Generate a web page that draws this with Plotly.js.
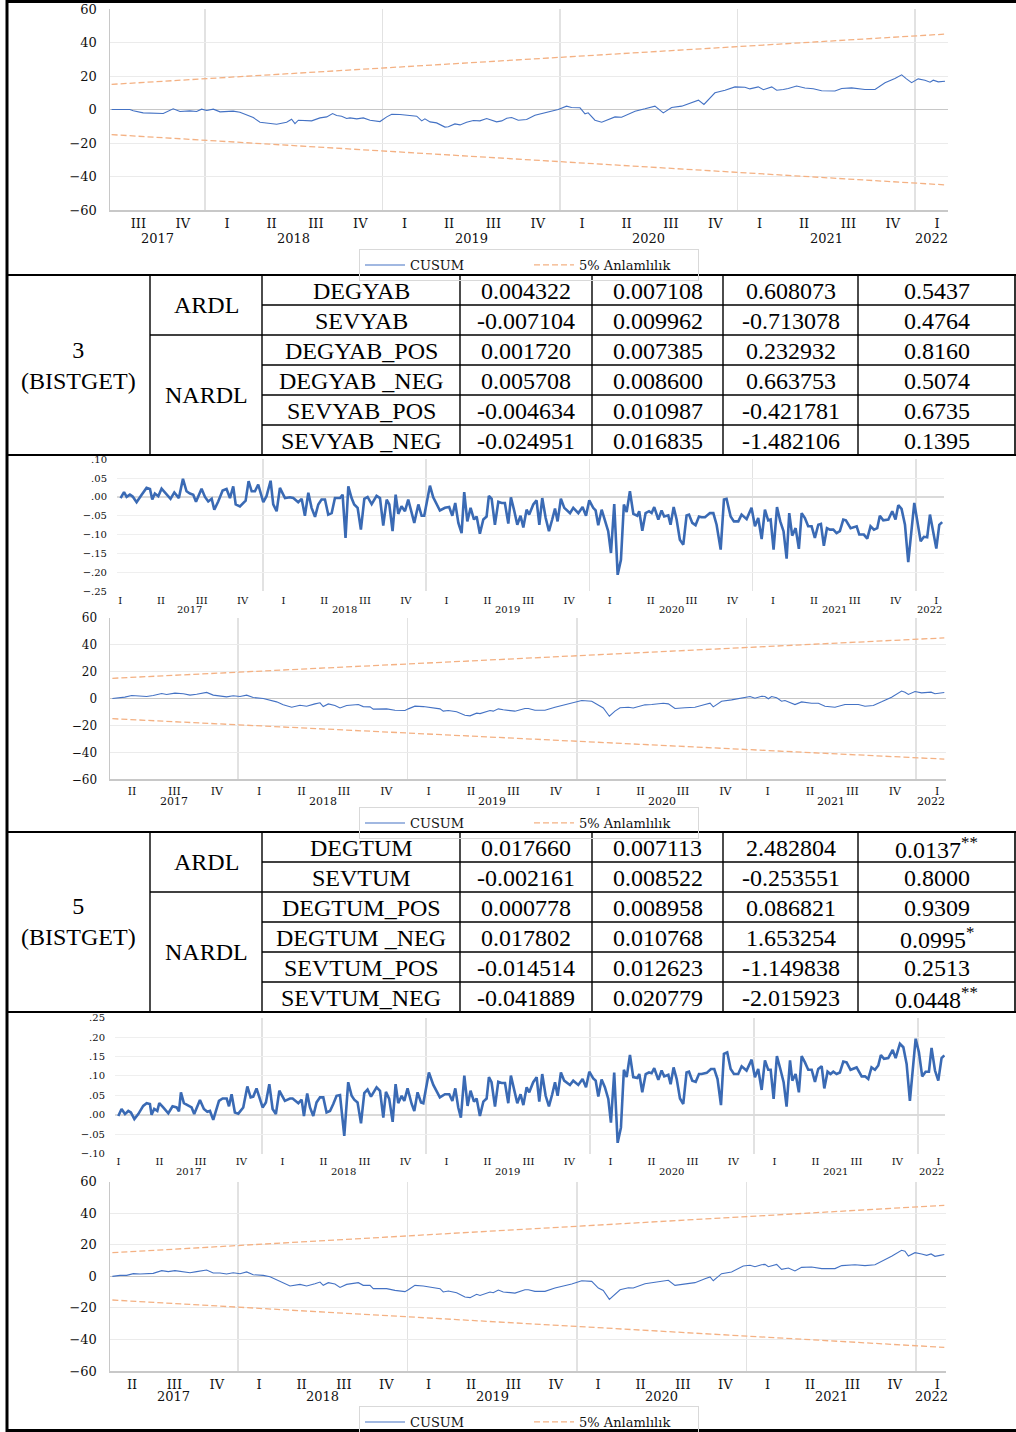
<!DOCTYPE html>
<html><head><meta charset="utf-8">
<script src="https://cdn.plot.ly/plotly-3.0.1.min.js"></script>
<style>html,body{margin:0;padding:0;background:#fff;overflow:hidden;width:1016px;height:1432px}#chart{width:1016px;height:1432px;overflow:hidden}</style>
</head><body><div id="chart"></div>
<script>
// ---------------- DATA ----------------
const years = [2017, 2018, 2019, 2020, 2021, 2022];
const quarterLabels = ['I', 'II', 'III', 'IV'];
const legendNames = ['CUSUM', '5% Anlamlılık'];
const boundUpper = [15, 45];
const boundLower = [-15, -45];

// CUSUM 1 (model 3, top)
const cusum1X = [2017.474,2017.577,2017.596,2017.652,2017.765,2017.821,2017.859,2017.915,2017.953,2017.981,
2018.010,2018.047,2018.085,2018.159,2018.197,2018.235,2018.272,2018.310,2018.348,2018.404,
2018.460,2018.488,2018.507,2018.526,2018.601,2018.648,2018.686,2018.719,2018.742,2018.770,
2018.798,2018.817,2018.855,2018.892,2018.930,2018.986,2019.024,2019.052,2019.099,2019.155,
2019.193,2019.221,2019.239,2019.268,2019.305,2019.352,2019.371,2019.408,2019.437,2019.474,
2019.512,2019.549,2019.587,2019.643,2019.672,2019.700,2019.728,2019.765,2019.812,2019.859,
2019.915,2019.990,2020.037,2020.065,2020.113,2020.141,2020.159,2020.197,2020.235,2020.310,
2020.347,2020.423,2020.479,2020.535,2020.582,2020.629,2020.686,2020.780,2020.811,2020.873,
2020.930,2020.986,2021.042,2021.070,2021.117,2021.146,2021.193,2021.221,2021.258,2021.286,
2021.333,2021.380,2021.427,2021.474,2021.549,2021.587,2021.643,2021.718,2021.775,2021.831,
2021.887,2021.925,2021.952,2021.981,2022.018,2022.056,2022.085,2022.103,2022.131,2022.169];
const cusum1Y = [0,0,-0.8,-2,-2.4,0.4,-1.2,-0.8,-1.2,0.2,
-0.6,0.2,-1.4,-1,-1.6,-3,-4.8,-7.6,-8.2,-8.8,
-7.6,-5.8,-8.4,-6.4,-6.8,-5,-4.4,-2.4,-3.6,-4,
-5.4,-5,-5.6,-5,-6.4,-7.2,-4.4,-2.8,-3,-3.6,
-4,-6.8,-5.6,-7.4,-8,-10.5,-10.3,-8.6,-9.2,-7.6,
-6.6,-6.8,-5.4,-7.4,-6.8,-5.2,-4.8,-6.4,-6,-3.4,
-2,0,2,1.2,1,-2.6,-2,-6.4,-7.6,-4.4,
-4.6,-1,0.4,2,-2,1.2,2,5.6,3,10,
11.5,13.5,13.3,12.3,13.5,11.8,13.5,11.5,11.9,12.5,
14,12.8,12.4,11.2,11,12.5,12.9,11.9,11.9,16,
18.5,20.7,18.3,16,18.3,17.5,16.3,17.5,16.5,16.9];

// Series 1 (between table 1 and CUSUM 2)
const series1X = [2017.128,2017.149,2017.165,2017.185,2017.202,2017.226,2017.257,2017.287,2017.308,2017.322,
2017.338,2017.359,2017.379,2017.410,2017.434,2017.457,2017.485,2017.510,2017.532,2017.553,
2017.573,2017.590,2017.624,2017.645,2017.665,2017.686,2017.702,2017.726,2017.753,2017.777,
2017.798,2017.818,2017.833,2017.859,2017.894,2017.912,2017.931,2017.951,2017.971,2018.002,
2018.022,2018.047,2018.063,2018.084,2018.104,2018.135,2018.165,2018.186,2018.216,2018.237,
2018.257,2018.278,2018.298,2018.319,2018.339,2018.359,2018.380,2018.400,2018.421,2018.441,
2018.472,2018.488,2018.506,2018.523,2018.543,2018.559,2018.580,2018.600,2018.621,2018.641,
2018.666,2018.696,2018.717,2018.737,2018.758,2018.774,2018.794,2018.813,2018.829,2018.849,
2018.870,2018.890,2018.911,2018.927,2018.952,2018.972,2018.988,2019.023,2019.043,2019.084,
2019.115,2019.141,2019.160,2019.178,2019.197,2019.217,2019.233,2019.252,2019.272,2019.293,
2019.309,2019.329,2019.350,2019.370,2019.384,2019.401,2019.421,2019.442,2019.462,2019.482,
2019.503,
2019.519,2019.540,2019.558,2019.578,2019.595,2019.615,2019.631,2019.656,2019.676,2019.693,
2019.711,2019.732,2019.752,2019.772,2019.789,2019.805,2019.825,2019.846,2019.881,2019.901,
2019.932,2019.958,2019.979,2019.999,2020.023,2020.038,2020.054,2020.075,2020.095,2020.115,
2020.132,2020.152,2020.173,2020.193,2020.211,2020.228,2020.248,2020.269,2020.293,2020.305,
2020.324,2020.344,2020.365,2020.381,2020.397,2020.422,2020.442,2020.458,2020.483,2020.497,
2020.516,2020.534,2020.554,2020.575,2020.595,2020.610,2020.630,2020.650,2020.671,2020.687,
2020.708,2020.738,2020.759,2020.779,2020.804,2020.824,2020.840,2020.865,2020.885,2020.912,
2020.932,2020.963,2020.993,2021.014,2021.034,2021.055,2021.075,2021.095,2021.110,2021.128,
2021.149,2021.169,2021.189,2021.208,2021.224,2021.242,2021.263,2021.283,2021.300,2021.320,
2021.340,2021.361,2021.381,2021.402,2021.418,2021.436,2021.455,2021.473,2021.494,2021.514,
2021.534,2021.555,2021.571,2021.600,2021.637,2021.653,2021.681,2021.702,2021.722,2021.743,
2021.763,2021.779,2021.800,2021.831,2021.855,2021.875,2021.892,2021.912,2021.933,2021.953,
2021.990,2022.010,2022.029,2022.049,2022.069,2022.086,2022.106,2022.125,2022.143,2022.161];
const series1Y = [-0.003,0.013,0.000,0.006,0.001,-0.014,0.006,0.024,0.021,-0.007,
0.009,0.002,0.022,0.006,-0.005,0.012,-0.003,0.048,0.015,0.009,
0.006,-0.013,0.022,0.000,-0.012,-0.005,-0.034,-0.012,0.017,0.021,
-0.003,0.028,-0.020,-0.025,-0.010,0.042,0.015,0.015,0.033,-0.014,
0.002,0.043,-0.020,-0.038,0.024,-0.003,-0.001,-0.003,-0.014,-0.005,
-0.050,0.011,-0.029,-0.053,-0.020,-0.007,-0.007,-0.047,-0.043,-0.003,
-0.003,0.006,-0.109,0.028,-0.003,-0.020,-0.029,-0.087,-0.005,0.000,
-0.019,0.003,-0.003,-0.076,-0.007,-0.020,-0.091,0.006,-0.045,-0.025,
-0.038,-0.007,-0.047,-0.069,-0.020,-0.050,-0.050,0.030,-0.001,-0.036,
-0.029,-0.027,-0.050,-0.016,-0.069,-0.096,0.013,-0.065,-0.029,-0.060,
-0.052,-0.098,-0.060,-0.052,0.003,-0.005,-0.074,-0.013,-0.016,-0.016,
-0.071,
-0.001,-0.038,-0.074,-0.050,-0.081,-0.034,-0.047,-0.020,-0.009,-0.074,
-0.003,-0.056,-0.091,-0.060,-0.031,-0.065,-0.005,-0.029,-0.043,-0.029,
-0.043,-0.027,-0.050,-0.009,-0.029,-0.036,-0.075,-0.034,-0.060,-0.091,
-0.149,-0.019,-0.207,-0.167,-0.020,-0.040,0.015,-0.045,-0.050,-0.038,
-0.090,-0.043,-0.038,-0.043,-0.027,-0.060,-0.036,-0.052,-0.049,-0.074,
-0.027,-0.060,-0.114,-0.127,-0.049,-0.047,-0.069,-0.075,-0.052,-0.054,
-0.054,-0.043,-0.043,-0.074,-0.140,-0.007,-0.005,-0.052,-0.065,-0.065,
-0.047,-0.059,-0.029,-0.078,-0.056,-0.112,-0.034,-0.062,-0.060,-0.140,
-0.027,-0.065,-0.091,-0.164,-0.043,-0.103,-0.083,-0.138,-0.043,-0.056,
-0.078,-0.078,-0.109,-0.074,-0.072,-0.130,-0.083,-0.087,-0.087,-0.096,
-0.091,-0.060,-0.062,-0.083,-0.078,-0.100,-0.100,-0.111,-0.078,-0.087,
-0.083,-0.050,-0.062,-0.060,-0.038,-0.060,-0.022,-0.032,-0.074,-0.173,
-0.016,-0.065,-0.118,-0.106,-0.107,-0.047,-0.099,-0.137,-0.074,-0.067];

// CUSUM 2 (middle)
const cusum2X = [2017.259,2017.304,2017.333,2017.373,2017.422,2017.461,2017.500,2017.550,2017.579,2017.628,
2017.678,2017.717,2017.756,2017.815,2017.854,2017.894,2017.933,2017.972,2018.012,2018.051,
2018.090,2018.149,2018.189,2018.228,2018.267,2018.317,2018.366,2018.405,2018.454,2018.484,
2018.503,2018.533,2018.572,2018.602,2018.641,2018.710,2018.739,2018.779,2018.798,2018.877,
2018.926,2018.985,2019.005,2019.044,2019.093,2019.152,2019.192,2019.211,2019.241,2019.290,
2019.339,2019.369,2019.408,2019.428,2019.487,2019.506,2019.536,2019.565,2019.634,2019.693,
2019.713,2019.752,2019.811,2019.870,2019.969,2020.028,2020.087,2020.126,2020.155,2020.191,
2020.224,2020.254,2020.303,2020.332,2020.401,2020.441,2020.509,2020.539,2020.578,2020.637,
2020.696,2020.755,2020.785,2020.804,2020.853,2020.912,2020.981,2021.021,2021.050,2021.089,
2021.109,2021.129,2021.148,2021.178,2021.207,2021.227,2021.286,2021.325,2021.384,2021.424,
2021.463,2021.522,2021.581,2021.660,2021.699,2021.748,2021.797,2021.856,2021.915,2021.935,
2021.955,2021.994,2022.033,2022.063,2022.089,2022.112,2022.142,2022.167];
const cusum2Y = [0,0.5,1.0,2.2,2.0,1.5,2.2,3.7,3.0,4.0,
3.5,2.5,3.2,4.5,2.5,2.0,1.2,2.0,1.5,2.5,
0.7,0,-1.0,-2.5,-4.7,-6.5,-5.0,-5.7,-4.0,-3.2,
-6.0,-4.0,-5.2,-7.0,-5.2,-4.5,-6.0,-6.2,-7.9,-7.7,
-8.7,-8.9,-7.7,-5.7,-6.0,-6.7,-7.7,-9.4,-8.9,-9.9,
-12.4,-12.9,-10.9,-11.2,-8.9,-9.4,-7.7,-8.4,-9.4,-7.4,
-7.4,-8.7,-8.7,-6.5,-3.7,-1.5,-2.0,-5.0,-7.0,-13.2,
-9.4,-6.9,-6.5,-7.0,-4.7,-4.5,-3.5,-4.0,-7.4,-6.9,
-6.5,-4.5,-3.5,-6.2,-2.0,-1.0,0.5,1.5,0.2,1.7,
1.5,-0.2,1.5,0.5,-2.0,-1.5,-4.5,-2.5,-3.5,-3.5,
-5.7,-6.5,-4.5,-4.5,-5.7,-5.2,-2.5,1.0,5.5,4.7,
3.0,5.2,4.2,4.5,4.7,3.5,4.2,4.5];

// Series 2 (between table 2 and CUSUM 3)
const series2X = [2017.124,2017.144,2017.165,2017.185,2017.201,2017.222,2017.246,2017.276,2017.297,2017.317,
2017.327,2017.343,2017.362,2017.374,2017.398,2017.429,2017.455,2017.480,2017.494,2017.506,
2017.524,2017.551,2017.571,2017.587,2017.622,2017.646,2017.667,2017.683,2017.703,2017.738,
2017.760,2017.785,2017.799,2017.815,2017.835,2017.856,2017.886,2017.911,2017.931,2017.947,
2017.967,2018.004,2018.024,2018.045,2018.065,2018.085,2018.106,2018.140,2018.171,2018.187,
2018.222,2018.242,2018.256,2018.276,2018.293,2018.313,2018.333,2018.354,2018.374,2018.394,
2018.415,2018.435,2018.455,2018.476,2018.502,2018.526,2018.547,2018.563,2018.583,2018.604,
2018.624,2018.644,2018.665,2018.699,2018.720,2018.740,2018.756,2018.776,2018.797,2018.815,
2018.831,2018.852,2018.868,2018.888,2018.913,2018.929,2018.949,2018.970,2018.984,2019.018,
2019.045,2019.085,2019.116,2019.142,2019.161,2019.179,2019.197,2019.213,2019.234,2019.254,
2019.272,2019.293,2019.309,2019.329,2019.350,2019.370,2019.384,2019.400,2019.421,2019.441,
2019.461,2019.482,2019.502,
2019.518,2019.539,2019.557,2019.577,2019.594,2019.614,2019.630,2019.654,2019.675,2019.691,
2019.709,2019.730,2019.750,2019.770,2019.787,2019.803,2019.823,2019.843,2019.878,2019.898,
2019.929,2019.955,2019.976,2019.996,2020.020,2020.035,2020.051,2020.071,2020.091,2020.112,
2020.128,2020.148,2020.169,2020.189,2020.207,2020.224,2020.244,2020.264,2020.289,2020.301,
2020.319,2020.340,2020.360,2020.376,2020.392,2020.417,2020.437,2020.453,2020.478,2020.492,
2020.510,2020.529,2020.549,2020.569,2020.589,2020.604,2020.624,2020.645,2020.665,2020.681,
2020.712,2020.738,2020.758,2020.778,2020.799,2020.817,2020.837,2020.858,2020.878,2020.904,
2020.925,2020.955,2020.986,2021.006,2021.026,2021.047,2021.067,2021.087,2021.102,2021.120,
2021.140,2021.161,2021.181,2021.199,2021.220,2021.234,2021.254,2021.274,2021.291,2021.311,
2021.331,2021.352,2021.372,2021.392,2021.413,2021.429,2021.449,2021.467,2021.484,2021.504,
2021.524,2021.545,2021.565,2021.589,2021.626,2021.657,2021.677,2021.697,2021.717,2021.738,
2021.758,2021.774,2021.793,2021.819,2021.846,2021.864,2021.890,2021.911,2021.931,2021.951,
2021.986,2022.006,2022.026,2022.047,2022.067,2022.083,2022.104,2022.124,2022.144,2022.161];
const series2Y = [-0.003,0.015,0.002,0.010,0.006,-0.011,0.002,0.023,0.030,0.028,
0.000,0.015,0.010,0.030,0.019,0.004,0.022,0.019,0.009,0.058,
0.030,0.023,0.019,0.002,0.038,0.015,0.008,0.010,-0.013,0.036,
0.042,0.042,0.022,0.053,0.006,0.003,0.019,0.073,0.045,0.047,
0.068,0.019,0.032,0.079,0.015,0.002,0.062,0.036,0.042,0.042,
0.030,0.039,-0.003,0.055,0.019,-0.003,0.032,0.045,0.045,0.006,
0.010,0.028,0.049,0.051,-0.054,0.084,0.049,0.039,0.032,-0.022,
0.056,0.065,0.047,0.071,0.062,-0.007,0.059,0.041,-0.018,0.079,
0.030,0.049,0.036,0.068,0.028,0.010,0.058,0.032,0.030,0.109,
0.077,0.045,0.053,0.053,0.036,0.068,0.019,-0.007,0.101,0.023,
0.062,0.034,0.042,-0.003,0.034,0.042,0.097,0.084,0.021,0.085,
0.082,0.082,0.030,
0.101,0.066,0.030,0.053,0.025,0.071,0.058,0.084,0.097,0.034,
0.105,0.049,0.022,0.053,0.084,0.049,0.109,0.088,0.077,0.088,
0.077,0.092,0.071,0.111,0.094,0.088,0.047,0.091,0.071,0.041,
-0.020,0.109,-0.072,-0.033,0.116,0.097,0.154,0.097,0.095,0.105,
0.058,0.105,0.109,0.107,0.120,0.090,0.114,0.099,0.103,0.079,
0.122,0.092,0.042,0.028,0.109,0.111,0.088,0.085,0.105,0.105,
0.108,0.118,0.118,0.092,0.025,0.157,0.161,0.118,0.105,0.105,
0.125,0.114,0.142,0.097,0.118,0.064,0.140,0.116,0.116,0.041,
0.151,0.118,0.084,0.021,0.140,0.088,0.105,0.058,0.151,0.135,
0.116,0.116,0.085,0.118,0.125,0.068,0.111,0.105,0.111,0.105,
0.109,0.137,0.135,0.116,0.122,0.099,0.099,0.092,0.122,0.116,
0.127,0.154,0.144,0.146,0.167,0.146,0.183,0.174,0.131,0.036,
0.196,0.161,0.099,0.111,0.111,0.172,0.114,0.088,0.146,0.153];

// CUSUM 3 (bottom)
const cusum3X = [2017.259,2017.304,2017.343,2017.383,2017.422,2017.461,2017.500,2017.550,2017.589,2017.628,
2017.668,2017.717,2017.756,2017.815,2017.854,2017.894,2017.933,2017.972,2018.012,2018.051,
2018.090,2018.149,2018.189,2018.228,2018.258,2018.307,2018.366,2018.405,2018.454,2018.484,
2018.503,2018.533,2018.572,2018.602,2018.641,2018.710,2018.739,2018.779,2018.798,2018.877,
2018.926,2018.985,2019.005,2019.044,2019.093,2019.152,2019.192,2019.211,2019.241,2019.290,
2019.339,2019.369,2019.408,2019.428,2019.487,2019.506,2019.536,2019.565,2019.634,2019.693,
2019.713,2019.752,2019.811,2019.870,2019.969,2020.028,2020.087,2020.126,2020.155,2020.191,
2020.224,2020.254,2020.303,2020.332,2020.401,2020.441,2020.509,2020.539,2020.578,2020.637,
2020.696,2020.755,2020.785,2020.804,2020.853,2020.912,2020.981,2021.021,2021.050,2021.089,
2021.109,2021.129,2021.178,2021.207,2021.247,2021.286,2021.325,2021.384,2021.444,2021.522,
2021.562,2021.640,2021.699,2021.758,2021.797,2021.856,2021.915,2021.935,2021.955,2021.994,
2022.033,2022.063,2022.089,2022.112,2022.142,2022.167];
const cusum3Y = [0,0.6,0.6,1.7,1.5,1.7,1.9,3.6,3.0,3.6,
3.2,2.3,3.0,4.0,2.1,2.1,1.5,2.3,1.7,2.8,
1.0,0.6,-0.2,-2.1,-4.0,-6.1,-5.1,-6.1,-4.7,-3.6,
-5.7,-4.0,-4.9,-7.0,-5.1,-4.0,-5.7,-5.7,-7.8,-7.8,
-8.9,-9.7,-8.5,-5.7,-6.1,-7.0,-7.8,-9.9,-9.3,-10.4,
-13.1,-13.5,-11.4,-12.1,-9.9,-10.4,-8.7,-9.9,-10.6,-8.5,
-8.5,-9.5,-9.5,-7.4,-4.9,-2.8,-3.2,-7.4,-8.9,-14.6,
-11.2,-8.5,-7.2,-7.4,-4.7,-4.0,-3.2,-2.5,-5.7,-4.7,
-4.0,-1.5,-0.4,-2.8,1.7,2.8,6.6,7.0,6.1,7.4,
7.6,6.1,7.6,4.4,5.3,3.4,5.7,5.9,4.9,4.9,
6.8,7.4,6.8,7.4,9.5,12.7,16.5,15.9,12.9,15.0,
14.2,13.3,14.2,12.7,13.3,13.8];

// Tables
const t1Group = ['3', '(BISTGET)'];
const t1Models = ['ARDL', 'NARDL'];
const t1Vars = ['DEGYAB', 'SEVYAB', 'DEGYAB_POS', 'DEGYAB _NEG', 'SEVYAB_POS', 'SEVYAB _NEG'];
const t1Coef = ['0.004322', '-0.007104', '0.001720', '0.005708', '-0.004634', '-0.024951'];
const t1SE   = ['0.007108', '0.009962', '0.007385', '0.008600', '0.010987', '0.016835'];
const t1T    = ['0.608073', '-0.713078', '0.232932', '0.663753', '-0.421781', '-1.482106'];
const t1P    = ['0.5437', '0.4764', '0.8160', '0.5074', '0.6735', '0.1395'];
const t1Sig  = ['', '', '', '', '', ''];

const t2Group = ['5', '(BISTGET)'];
const t2Models = ['ARDL', 'NARDL'];
const t2Vars = ['DEGTUM', 'SEVTUM', 'DEGTUM_POS', 'DEGTUM _NEG', 'SEVTUM_POS', 'SEVTUM_NEG'];
const t2Coef = ['0.017660', '-0.002161', '0.000778', '0.017802', '-0.014514', '-0.041889'];
const t2SE   = ['0.007113', '0.008522', '0.008958', '0.010768', '0.012623', '0.020779'];
const t2T    = ['2.482804', '-0.253551', '0.086821', '1.653254', '-1.149838', '-2.015923'];
const t2P    = ['0.0137', '0.8000', '0.9309', '0.0995', '0.2513', '0.0448'];
const t2Sig  = ['**', '', '', '*', '', '**'];

const yTicksS1 = [0.10, 0.05, 0.00, -0.05, -0.10, -0.15, -0.20, -0.25];
const yTextS1  = ['.10', '.05', '.00', '−.05', '−.10', '−.15', '−.20', '−.25'];
const yTicksS2 = [0.25, 0.20, 0.15, 0.10, 0.05, 0.00, -0.05, -0.10];
const yTextS2  = ['.25', '.20', '.15', '.10', '.05', '.00', '−.05', '−.10'];

// ---------------- LAYOUT ----------------
const W = 1016, H = 1432;
const X = p => p / W;
const Y = p => 1 - p / H;
const SERIF = 'DejaVu Serif';
const TNR = 'Liberation Serif';
const BLUE = '#4472C4', BLUE2 = '#3A6AB4', ORANGE = '#F4B183';

const qVals = [], qText = [];
years.forEach(y => quarterLabels.forEach((q, i) => { qVals.push(y + 0.125 + 0.25 * i); qText.push(q); }));

// panel geometry (pixels)
const panels = [
  {l:110, r:948, t:9,      b:210,    xr:[2017.465, 2022.186], fs:13, yfs:13, yearY:238,  xsoff:0, tick:'cusum'},
  {l:117, r:944, t:459.3,  b:591,    xr:[2017.106, 2022.172], fs:10, yfs:10, yearY:609,  xsoff:2, tick:'s1'},
  {l:110, r:946, t:617.7,  b:779.3,  xr:[2017.245, 2022.177], fs:11, yfs:12, yearY:801,  xsoff:0, tick:'cusum'},
  {l:115, r:945, t:1017.7, b:1153.7, xr:[2017.104, 2022.165], fs:10, yfs:10, yearY:1171, xsoff:0, tick:'s2'},
  {l:110, r:946, t:1181.7, b:1371,   xr:[2017.245, 2022.177], fs:13, yfs:13, yearY:1396, xsoff:0, tick:'cusum'}
];

const layout = {
  width: W, height: H,
  margin: {l:0, r:0, t:0, b:0, autoexpand: false},
  paper_bgcolor: '#fff', plot_bgcolor: 'rgba(0,0,0,0)',
  showlegend: true,
  annotations: [], shapes: []
};

panels.forEach((p, i) => {
  const n = i === 0 ? '' : String(i + 1);
  const isC = p.tick === 'cusum';
  layout['xaxis' + n] = {
    domain: [X(p.l), X(p.r)], range: p.xr, anchor: 'y' + n,
    tickmode: 'array', tickvals: qVals, ticktext: qText,
    showgrid: false, zeroline: false, ticks: '',
    showline: isC, linecolor: '#c8c8c8', linewidth: 2,
    tickfont: {family: SERIF, size: p.fs, color: '#111'},
    ticklabelstandoff: p.xsoff,
    minor: {tickmode: 'linear', tick0: 2018, dtick: 1, showgrid: true, gridcolor: '#e2e2e2', gridwidth: 1.5, ticks: ''},
    fixedrange: true
  };
  const ya = {
    domain: [Y(p.b), Y(p.t)], anchor: 'x' + n,
    ticks: '', showgrid: true, gridwidth: 1,
    tickfont: {family: SERIF, size: p.yfs, color: '#111'},
    ticklabelstandoff: 9, fixedrange: true
  };
  if (isC) {
    Object.assign(ya, {range: [-60, 60], tickmode: 'linear', tick0: 0, dtick: 20,
      gridcolor: '#ebebeb', zeroline: true, zerolinecolor: '#c8c8c8', zerolinewidth: 1.5,
      showline: true, linecolor: '#c8c8c8', linewidth: 1.5});
  } else if (p.tick === 's1') {
    Object.assign(ya, {range: [-0.25, 0.10], tickmode: 'array', tickvals: yTicksS1, ticktext: yTextS1,
      gridcolor: '#efefef', zeroline: true, zerolinecolor: '#dadada', zerolinewidth: 2, showline: false});
  } else {
    Object.assign(ya, {range: [-0.10, 0.25], tickmode: 'array', tickvals: yTicksS2, ticktext: yTextS2,
      gridcolor: '#efefef', zeroline: true, zerolinecolor: '#dadada', zerolinewidth: 2, showline: false});
  }
  layout['yaxis' + n] = ya;
  // year labels under quarter labels
  years.forEach(yr => {
    const lo = Math.max(yr, p.xr[0]), hi = Math.min(yr + 1, p.xr[1]);
    if (hi > lo) layout.annotations.push({
      xref: 'x' + n, yref: 'paper', x: (lo + hi) / 2, y: Y(p.yearY),
      text: String(yr), showarrow: false, xanchor: 'center', yanchor: 'middle',
      font: {family: SERIF, size: p.fs, color: '#111'}
    });
  });
});

// legends
const legBase = top => ({
  x: X(529), xanchor: 'center', y: Y(top), yanchor: 'top', orientation: 'h',
  bordercolor: '#d9d9d9', borderwidth: 1, bgcolor: 'rgba(255,255,255,0)',
  font: {family: SERIF, size: 13, color: '#111'}, itemwidth: 40,
  entrywidth: 114, tracegroupgap: 0, itemclick: false, itemdoubleclick: false
});
layout.legend = legBase(249);
layout.legend2 = legBase(807);
layout.legend3 = legBase(1406);

// ---------------- TRACES ----------------
const traces = [];
function addCusum(xs, ys, n, leg) {
  const xEnds = [xs[0], xs[xs.length - 1]];
  traces.push({type: 'scatter', mode: 'lines', x: xs, y: ys, xaxis: 'x' + n, yaxis: 'y' + n,
    name: legendNames[0], legend: leg, line: {color: BLUE, width: 1.1}, hoverinfo: 'skip'});
  traces.push({type: 'scatter', mode: 'lines', x: xEnds, y: boundUpper, xaxis: 'x' + n, yaxis: 'y' + n,
    name: legendNames[1], legend: leg, line: {color: ORANGE, width: 1.3, dash: '6px,3px'}, hoverinfo: 'skip'});
  traces.push({type: 'scatter', mode: 'lines', x: xEnds, y: boundLower, xaxis: 'x' + n, yaxis: 'y' + n,
    name: legendNames[1], legend: leg, showlegend: false, line: {color: ORANGE, width: 1.3, dash: '6px,3px'}, hoverinfo: 'skip'});
}
function addSeries(xs, ys, n) {
  traces.push({type: 'scatter', mode: 'lines', x: xs, y: ys, xaxis: 'x' + n, yaxis: 'y' + n,
    showlegend: false, line: {color: BLUE2, width: 2.6}, hoverinfo: 'skip'});
}
addCusum(cusum1X, cusum1Y, '', 'legend');
addSeries(series1X, series1Y, '2');
addCusum(cusum2X, cusum2Y, '3', 'legend2');
addSeries(series2X, series2Y, '4');
addCusum(cusum3X, cusum3Y, '5', 'legend3');

// ---------------- FRAME & TABLES ----------------
function hline(y, x0, x1, w) {
  layout.shapes.push({type: 'line', xref: 'paper', yref: 'paper', x0: X(x0), x1: X(x1), y0: Y(y), y1: Y(y), line: {color: '#000', width: w}});
}
function vline(x, y0, y1, w) {
  layout.shapes.push({type: 'line', xref: 'paper', yref: 'paper', x0: X(x), x1: X(x), y0: Y(y0), y1: Y(y1), line: {color: '#000', width: w}});
}
function txt(x, y, s, size) {
  layout.annotations.push({xref: 'paper', yref: 'paper', x: X(x), y: Y(y), text: s, showarrow: false,
    xanchor: 'center', yanchor: 'middle', font: {family: TNR, size: size || 24, color: '#000'}});
}
// outer frame
vline(7, 0, 1432, 3);
hline(1.5, 7, 1016, 3);
hline(1430.5, 7, 1016, 3);

function table(top, rowH, group, models, vars, coef, se, tv, pv, sig) {
  const cols = [7, 150, 262, 460, 592, 723, 858, 1015];
  const bottom = top + rowH * 6;
  hline(top, 7, 1016, 2.2);
  hline(bottom, 7, 1016, 2.2);
  [1, 2, 3, 4, 5, 6].forEach(c => vline(cols[c], top, bottom, 1.4));
  vline(cols[7], top, bottom, 1.6);
  for (let i = 1; i < 6; i++) hline(top + i * rowH, i === 2 ? cols[1] : cols[2], cols[7], 1.4);
  txt((cols[0] + cols[1]) / 2, (top + bottom) / 2, group.join('<br>'));
  txt((cols[1] + cols[2]) / 2, top + rowH, models[0]);
  txt((cols[1] + cols[2]) / 2, top + 4 * rowH, models[1]);
  for (let r = 0; r < 6; r++) {
    const yc = top + (r + 0.5) * rowH + 1;
    txt((cols[2] + cols[3]) / 2, yc, vars[r]);
    txt((cols[3] + cols[4]) / 2, yc, coef[r]);
    txt((cols[4] + cols[5]) / 2, yc, se[r]);
    txt((cols[5] + cols[6]) / 2, yc, tv[r]);
    txt((cols[6] + cols[7]) / 2, yc, pv[r] + (sig[r] ? '<sup>' + sig[r] + '</sup>' : ''));
  }
}
table(275, 30, t1Group, t1Models, t1Vars, t1Coef, t1SE, t1T, t1P, t1Sig);
table(832, 30, t2Group, t2Models, t2Vars, t2Coef, t2SE, t2T, t2P, t2Sig);

Plotly.newPlot('chart', traces, layout, {displayModeBar: false, staticPlot: true});
</script></body></html>
